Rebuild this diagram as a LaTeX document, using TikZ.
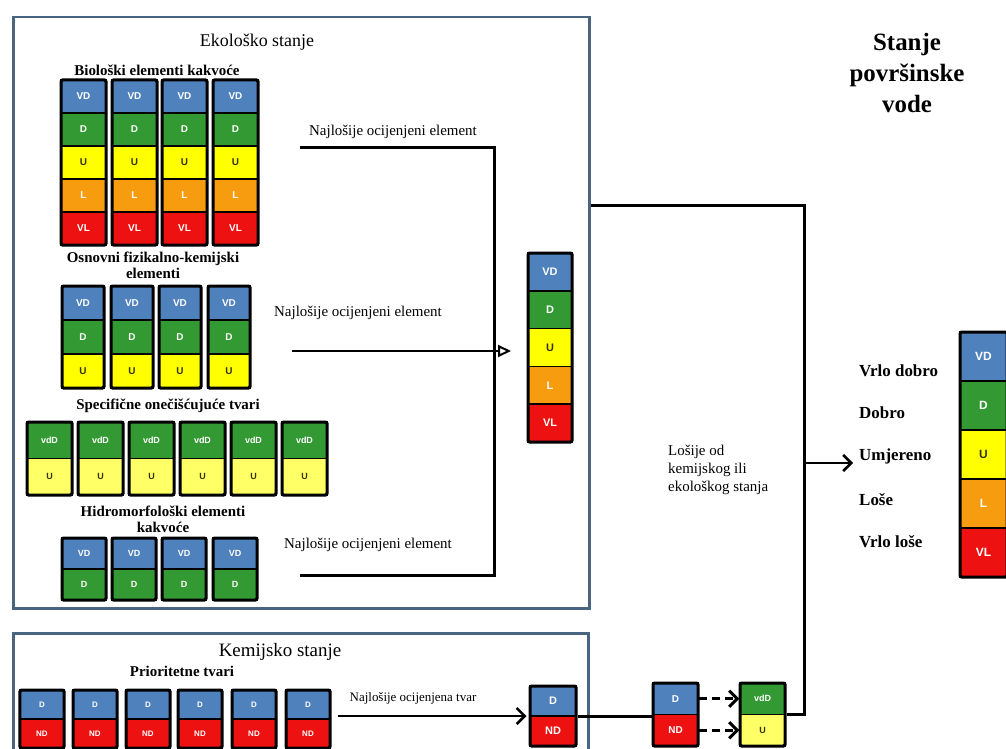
\documentclass[tikz,border=0pt]{standalone}
\usepackage{fontspec}
\setmainfont{Liberation Serif}
\setsansfont{Liberation Sans}
\usetikzlibrary{arrows.meta}
\definecolor{cVD}{HTML}{4F81BD}
\definecolor{cDb}{HTML}{4F81BD}
\definecolor{cD}{HTML}{339933}
\definecolor{cU}{HTML}{FFFF00}
\definecolor{cUx}{HTML}{FFFF66}
\definecolor{cL}{HTML}{F79C0F}
\definecolor{cVL}{HTML}{EE1111}
\definecolor{cvdD}{HTML}{339933}
\definecolor{cND}{HTML}{EE1111}
\colorlet{tVD}{white}
\colorlet{tDb}{white}
\colorlet{tD}{white}
\definecolor{tU}{HTML}{333300}
\definecolor{tUx}{HTML}{333300}
\colorlet{tL}{white}
\colorlet{tVL}{white}
\colorlet{tvdD}{white}
\colorlet{tND}{white}
\definecolor{boxline}{HTML}{4A6582}
\def\labVD{VD}\def\labD{D}\def\labDb{D}\def\labU{U}\def\labUx{U}\def\labL{L}\def\labVL{VL}\def\labvdD{vdD}\def\labND{ND}
\def\cfs{10}
\newcommand{\gcol}[7]{%
  \foreach \cc [count=\i] in {#7}{%
    \node[cellbox, fill=c\cc, text=t\cc, minimum width=#4bp, minimum height=#5bp] (#1-\i) at ({#2+#4/2},{#3+(\i-0.5)*#5}) {\csname lab\cc\endcsname};
  }%
  \node[colframe, minimum width=#4bp, minimum height={(#6)*(#5)*1bp}] (#1) at ({#2+#4/2},{#3+(#6)*(#5)/2}) {};
}
\begin{document}
\begin{tikzpicture}[x=1bp,y=-1bp,
  cellbox/.style={draw=black, line width=1.5bp, inner sep=0pt, font=\sffamily\bfseries\fontsize{\cfs}{\cfs}\selectfont},
  colframe/.style={draw=black, line width=3bp, rounded corners=1.5bp, inner sep=0pt},
  statebox/.style={draw=boxline, line width=2.5bp, inner sep=0pt, anchor=north west, fill=white},
  ttl/.style={inner sep=0pt, font=\fontsize{18}{20}\selectfont},
  sub/.style={inner sep=0pt, align=center, font=\bfseries\fontsize{15}{16}\selectfont},
  lab/.style={inner sep=0pt, font=\fontsize{15}{17}\selectfont},
  rlab/.style={inner sep=0pt, anchor=west, font=\bfseries\fontsize{17}{20}\selectfont},
  conn/.style={line width=3bp, black},
  arr/.style={line width=2.5bp, black, -{Straight Barb[length=8bp,width=16bp]}},
  oarr/.style={line width=2bp, black, -{Triangle[open,length=13bp,width=12bp,line width=2bp]}}
]
\path[use as bounding box] (0,0) rectangle (1006,749);
\clip (0,0) rectangle (1006,749);
\fill[white] (0,0) rectangle (1006,749);

% state boxes
\node[statebox, minimum width=576bp, minimum height=591bp] (eco) at (12,16) {};
\node[statebox, minimum width=575bp, minimum height=150bp] (chem) at (12,632) {};

% ecological state
\node[ttl] (tEco) at (257,42) {Ekološko stanje};
\node[sub] (tBio) at (157,70) {Biološki elementi kakvoće};
\def\cfs{10}
\gcol{B1}{61}{80}{45}{33}{5}{VD,D,U,L,VL}
\gcol{B2}{112}{80}{45}{33}{5}{VD,D,U,L,VL}
\gcol{B3}{162}{80}{45}{33}{5}{VD,D,U,L,VL}
\gcol{B4}{213}{80}{45}{33}{5}{VD,D,U,L,VL}

\node[sub] (tFK) at (153,265) {Osnovni fizikalno-kemijski\\elementi};
\gcol{F1}{62}{286}{42}{34}{3}{VD,D,U}
\gcol{F2}{111}{286}{42}{34}{3}{VD,D,U}
\gcol{F3}{159}{286}{42}{34}{3}{VD,D,U}
\gcol{F4}{208}{286}{42}{34}{3}{VD,D,U}

\node[sub] (tSp) at (168,406) {Specifične onečišćujuće tvari};
\def\cfs{9}
\gcol{S1}{27}{422}{45}{36.5}{2}{vdD,Ux}
\gcol{S2}{78}{422}{45}{36.5}{2}{vdD,Ux}
\gcol{S3}{129}{422}{45}{36.5}{2}{vdD,Ux}
\gcol{S4}{180}{422}{45}{36.5}{2}{vdD,Ux}
\gcol{S5}{231}{422}{45}{36.5}{2}{vdD,Ux}
\gcol{S6}{282}{422}{45}{36.5}{2}{vdD,Ux}

\node[sub] (tHy) at (163,519) {Hidromorfološki elementi\\kakvoće};
\gcol{H1}{62}{538}{44}{31}{2}{VD,D}
\gcol{H2}{112}{538}{44}{31}{2}{VD,D}
\gcol{H3}{162}{538}{44}{31}{2}{VD,D}
\gcol{H4}{213}{538}{44}{31}{2}{VD,D}

\node[lab] (l1) at (393,132) {Najlošije ocijenjeni element};
\node[lab] (l2) at (358,313) {Najlošije ocijenjeni element};
\node[lab] (l3) at (368,545) {Najlošije ocijenjeni element};

\def\cfs{11}
\gcol{E}{528}{253}{44}{37.8}{5}{VD,D,U,L,VL}

% chemical state
\node[ttl, font=\fontsize{19}{21}\selectfont] (tKem) at (280,652) {Kemijsko stanje};
\node[sub] (tPri) at (182,671) {Prioritetne tvari};
\def\cfs{8}
\gcol{P1}{20}{690}{44}{29}{2}{Db,ND}
\gcol{P2}{73}{690}{44}{29}{2}{Db,ND}
\gcol{P3}{126}{690}{44}{29}{2}{Db,ND}
\gcol{P4}{178}{690}{44}{29}{2}{Db,ND}
\gcol{P5}{232}{690}{44}{29}{2}{Db,ND}
\gcol{P6}{286}{690}{44}{29}{2}{Db,ND}
\node[lab, font=\fontsize{13}{15}\selectfont] (l4) at (413,698) {Najlošije ocijenjena tvar};
\def\cfs{11}
\gcol{CR}{530}{686}{46}{30}{2}{Db,ND}
\def\cfs{10}
\gcol{DN}{653}{683}{45}{31.5}{2}{Db,ND}
\def\cfs{9}
\gcol{VU}{740}{683}{45}{31.5}{2}{vdD,Ux}

% surface water state
\node[inner sep=0pt, align=center, font=\bfseries\fontsize{25}{31}\selectfont] (tSt) at (907,73) {Stanje\\površinske\\vode};
\node[inner sep=0pt, align=left, anchor=north west, font=\fontsize{15}{18}\selectfont] (tLo) at (668,445) {Lošije od\\kemijskog ili\\ekološkog stanja};
\node[rlab] (r1) at (859,371) {Vrlo dobro};
\node[rlab] (r2) at (859,413) {Dobro};
\node[rlab] (r3) at (859,456) {Umjereno};
\node[rlab] (r4) at (859,500) {Loše};
\node[rlab] (r5) at (859,542) {Vrlo loše};
\def\cfs{12}
\gcol{R}{960}{332}{47}{49}{5}{VD,D,U,L,VL}

% connectors
\coordinate (w1) at (300,147);
\coordinate (j1) at (494,147);
\coordinate (j3) at (494,575);
\coordinate (w3) at (300,575);
\draw[conn] (w1) -- (j1) -- (j3) -- (w3);
\coordinate (w2) at (292,351);
\coordinate (w2e) at (511,351);
\draw[oarr] (w2) -- (w2e);

\coordinate (j4) at (804,205);
\draw[conn] (eco.east |- j4) -- (j4) -- (j4 |- VU.east) -- (VU.east);
\coordinate (a5) at (853,463);
\draw[arr] (j4 |- a5) -- (a5);

\draw[arr, shorten <=6bp, shorten >=2bp] (P6.east |- CR.west) -- (CR.west);
\draw[conn] (CR.east) -- (CR.east -| DN.west);
\draw[arr, line width=3bp, dash pattern=on 8bp off 5bp] (DN-1.east) -- (VU-1.west);
\draw[arr, line width=3bp, dash pattern=on 8bp off 5bp] (DN-2.east) -- (VU-2.west);
\end{tikzpicture}
\end{document}
